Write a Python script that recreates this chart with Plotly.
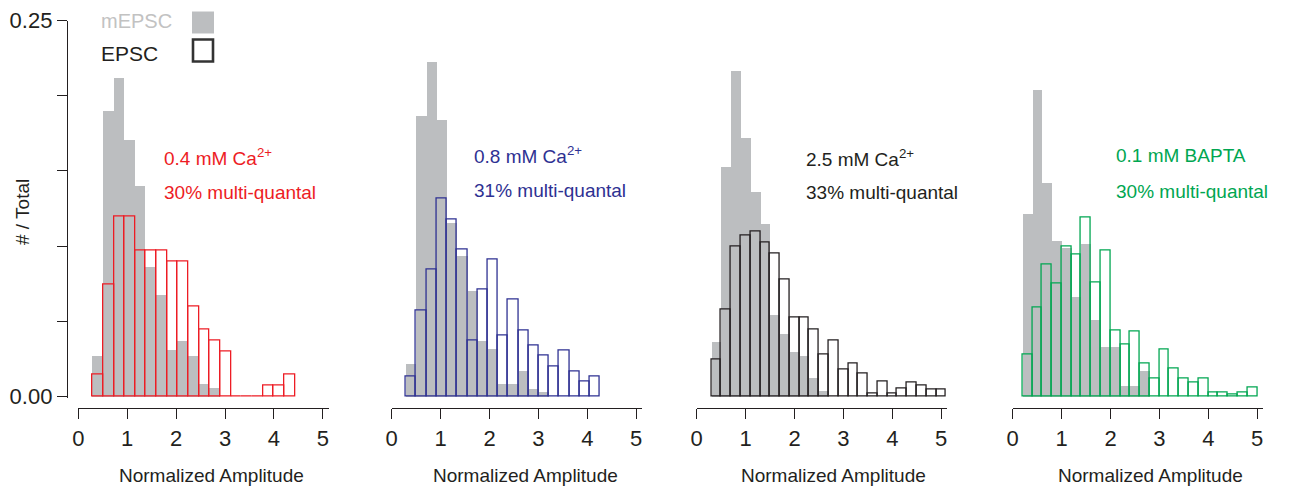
import numpy as np
import plotly.graph_objects as go

# ---------------- data ----------------
AMP_TICKS = [0, 1, 2, 3, 4, 5]
Y_TICKS = [0, 0.05, 0.10, 0.15, 0.20, 0.25]
Y_TICKTEXT = ["0.00", "", "", "", "", "0.25"]

# histogram bins (start, width) per panel
BINS = [(0.29, 0.218), (0.29, 0.209), (0.30, 0.20), (0.20, 0.20)]

mepsc_p1 = [0.027, 0.190, 0.212, 0.171, 0.140, 0.0865, 0.068, 0.031, 0.037, 0.027,
            0.0084, 0.006, 0, 0, 0, 0, 0, 0, 0]
epsc_p1 = [0.0149, 0.0747, 0.120, 0.120, 0.097, 0.097, 0.097, 0.0898, 0.0898, 0.060,
           0.0448, 0.0373, 0.0297, 0, 0, 0, 0.0073, 0.0073, 0.0149]

mepsc_p2 = [0.0217, 0.187, 0.223, 0.184, 0.116, 0.094, 0.0705, 0.037, 0.032, 0.0089,
            0.0089, 0.017, 0.0051, 0.0033, 0, 0, 0, 0, 0]
epsc_p2 = [0.0133, 0.0572, 0.0843, 0.1317, 0.118, 0.0976, 0.037, 0.071, 0.0909, 0.0406,
           0.0643, 0.0437, 0.0337, 0.027, 0.020, 0.0304, 0.0166, 0.010, 0.0133]

mepsc_p3 = [0.0366, 0.153, 0.217, 0.172, 0.136, 0.115, 0.0543, 0.042, 0.030, 0.027,
            0.0126, 0.004, 0, 0, 0, 0, 0, 0, 0, 0, 0, 0, 0, 0]
epsc_p3 = [0.0248, 0.0576, 0.0998, 0.107, 0.110, 0.1027, 0.095, 0.0776, 0.0525, 0.0525,
           0.0448, 0.0277, 0.037, 0.0177, 0.022, 0.015, 0.0022, 0.010, 0.0022, 0.0051,
           0.0095, 0.0073, 0.0044, 0.0044]

mepsc_p4 = [0.122, 0.204, 0.1426, 0.104, 0.099, 0.0662, 0.102, 0.0512, 0.033, 0.033,
            0.0075, 0.0075, 0.0173, 0, 0, 0, 0, 0, 0, 0, 0, 0, 0, 0]
epsc_p4 = [0.028, 0.0594, 0.0876, 0.075, 0.100, 0.0946, 0.119, 0.0758, 0.0973, 0.044,
           0.0348, 0.0435, 0.0217, 0.0122, 0.031, 0.0184, 0.0122, 0.009, 0.0122, 0.0029,
           0.0029, 0.0011, 0.0029, 0.0058]

CONDITIONS = ["0.4 mM Ca<sup>2+</sup>", "0.8 mM Ca<sup>2+</sup>",
              "2.5 mM Ca<sup>2+</sup>", "0.1 mM BAPTA"]
MULTI = ["30% multi-quantal", "31% multi-quantal", "33% multi-quantal", "30% multi-quantal"]

MEPSC = [mepsc_p1, mepsc_p2, mepsc_p3, mepsc_p4]
EPSC = [epsc_p1, epsc_p2, epsc_p3, epsc_p4]

# ---------------- styles ----------------
GRAY = "#bcbec0"
COLORS = ["#ed1c24", "#2e3192", "#231f20", "#00a651"]
AXC = "#231f20"
FONT = "Arial, Liberation Sans, sans-serif"
W, H = 1305, 487

def fx(px):
    return px / W

def fy(py):
    return 1 - py / H

PX_PER_UNIT = 48.9
X0_PX = [78.3, 391.7, 696.7, 1012.7]
XMAX = 5.12
Y0_PX = 396.5
PX_PER_Y = 1504.0
YMIN, YMAX = -0.001, 0.25
TITLE_CX = [212, 525, 833, 1150]

fig = go.Figure()

for i in range(4):
    start, width = BINS[i]
    n = len(MEPSC[i])
    centers = start + width * (np.arange(n) + 0.5)
    xa = "x" if i == 0 else f"x{i+1}"
    ya = "y" if i == 0 else f"y{i+1}"
    fig.add_trace(go.Bar(x=centers, y=MEPSC[i], width=width, xaxis=xa, yaxis=ya,
                         marker=dict(color=GRAY, line=dict(width=0)),
                         showlegend=False, hoverinfo="skip"))
    fig.add_trace(go.Bar(x=centers, y=EPSC[i], width=width, xaxis=xa, yaxis=ya,
                         marker=dict(color="rgba(0,0,0,0)",
                                     line=dict(color=COLORS[i], width=1.3)),
                         showlegend=False, hoverinfo="skip"))

ydom = [fy(Y0_PX - YMIN * PX_PER_Y), fy(Y0_PX - YMAX * PX_PER_Y)]
layout = dict(
    width=W, height=H, margin=dict(l=0, r=0, t=0, b=0, autoexpand=False),
    paper_bgcolor="white", plot_bgcolor="white",
    barmode="overlay", bargap=0,
    font=dict(family=FONT, size=19, color=AXC),
    showlegend=False,
)
for i in range(4):
    suffix = "" if i == 0 else str(i + 1)
    x0 = X0_PX[i]
    layout["xaxis" + suffix] = dict(
        domain=[fx(x0), fx(x0 + XMAX * PX_PER_UNIT)], range=[0, XMAX],
        anchor="free", position=fy(408),
        showline=True, linecolor=AXC, linewidth=1.3,
        ticks="outside", ticklen=10, tickwidth=1.3, tickcolor=AXC,
        tickvals=AMP_TICKS, ticktext=[str(t) for t in AMP_TICKS],
        tickfont=dict(size=22, color=AXC),
        showgrid=False, zeroline=False, fixedrange=True, automargin=False,
    )
    if i == 0:
        layout["yaxis"] = dict(
            domain=ydom, range=[YMIN, YMAX], anchor="free", position=fx(67),
            showline=True, linecolor=AXC, linewidth=1.3,
            ticks="outside", ticklen=10, tickwidth=1.3, tickcolor=AXC,
            tickvals=Y_TICKS, ticktext=Y_TICKTEXT,
            tickfont=dict(size=22, color=AXC),
            showgrid=False, zeroline=False, fixedrange=True, automargin=False,
        )
    else:
        layout["yaxis" + suffix] = dict(
            domain=ydom, range=[YMIN, YMAX], anchor="x" + suffix, visible=False,
            showgrid=False, zeroline=False, fixedrange=True,
        )

fig.update_layout(**layout)

# annotations
ann_left = [163, 473, 805, 1115]
ann_y1 = [157, 155, 158, 155]
ann_y2 = [192, 190, 192, 191]
for i in range(4):
    fig.add_annotation(x=fx(ann_left[i]), y=fy(ann_y1[i]), xref="paper", yref="paper",
                       text=CONDITIONS[i], showarrow=False, xanchor="left", yanchor="middle",
                       borderpad=0, font=dict(size=19, color=COLORS[i], family=FONT))
    fig.add_annotation(x=fx(ann_left[i]), y=fy(ann_y2[i]), xref="paper", yref="paper",
                       text=MULTI[i], showarrow=False, xanchor="left", yanchor="middle",
                       borderpad=0, font=dict(size=19, color=COLORS[i], family=FONT))
    fig.add_annotation(x=fx(TITLE_CX[i]), y=fy(475), xref="paper", yref="paper",
                       text="Normalized Amplitude", showarrow=False,
                       xanchor="center", yanchor="middle",
                       font=dict(size=19, color=AXC, family=FONT))

fig.add_annotation(x=fx(22), y=fy(212), xref="paper", yref="paper", text="# / Total",
                   textangle=-90, showarrow=False, xanchor="center", yanchor="middle",
                   font=dict(size=19, color=AXC, family=FONT))

# legend
fig.add_annotation(x=fx(100), y=fy(21), xref="paper", yref="paper", text="mEPSC",
                   showarrow=False, xanchor="left", yanchor="middle", borderpad=0,
                   font=dict(size=20, color="#c2c2c2", family=FONT))
fig.add_annotation(x=fx(100), y=fy(53), xref="paper", yref="paper", text="EPSC",
                   showarrow=False, xanchor="left", yanchor="middle", borderpad=0,
                   font=dict(size=21, color=AXC, family=FONT))
fig.add_shape(type="rect", xref="paper", yref="paper",
              x0=fx(192), x1=fx(214), y0=fy(33.5), y1=fy(11.5),
              fillcolor=GRAY, line=dict(width=0))
fig.add_shape(type="rect", xref="paper", yref="paper",
              x0=fx(193), x1=fx(213), y0=fy(61.5), y1=fy(39.5),
              fillcolor="white", line=dict(color="#333333", width=2.6))

fig.write_html("out.html")
